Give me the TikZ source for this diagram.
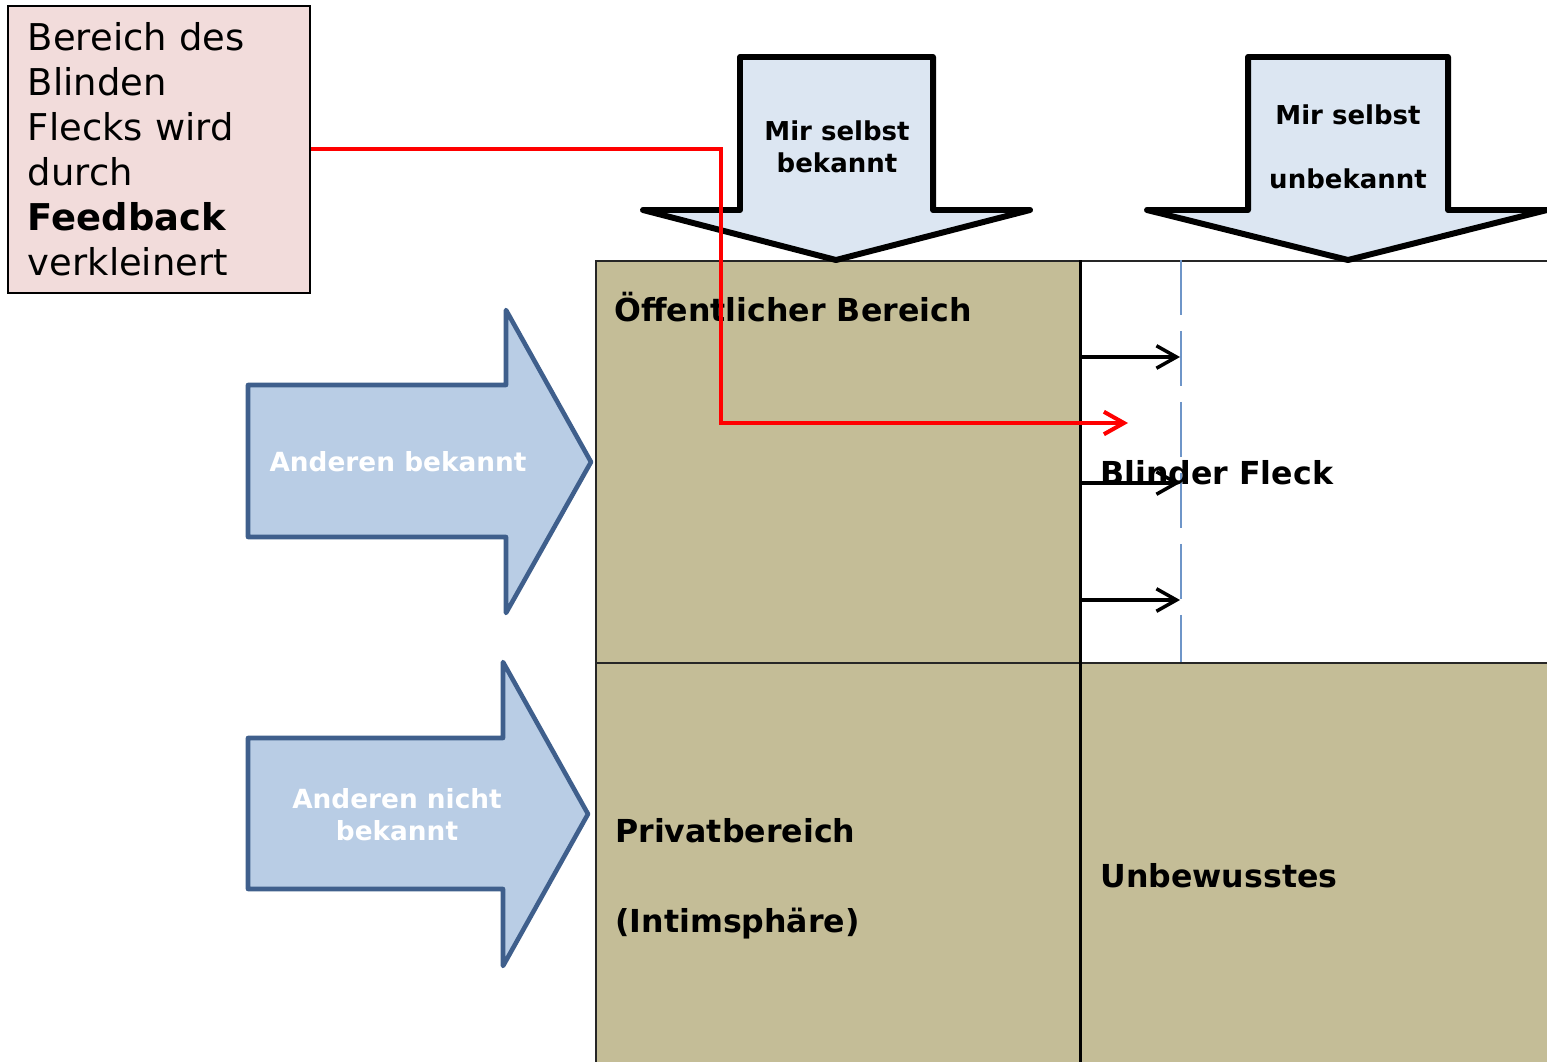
\documentclass[tikz,border=0pt]{standalone}
\usepackage{fontspec}
\setmainfont{DejaVu Sans}
\usepackage{xcolor}
\usetikzlibrary{arrows.meta, positioning}
\definecolor{quadtan}{HTML}{C4BD97}
\definecolor{notepink}{HTML}{F2DCDB}
\definecolor{headfill}{HTML}{DCE6F2}
\definecolor{sidefill}{HTML}{B9CDE5}
\definecolor{sidedraw}{HTML}{3F5F8C}
\definecolor{dashblue}{HTML}{6E95C8}
\tikzset{
  cell/.style={rectangle, draw=black!85, line width=1pt, fill=quadtan,
               anchor=north west, inner sep=0pt},
  celltext/.style={font=\bfseries\fontsize{18}{22}\selectfont, anchor=base west, inner sep=0pt},
  headarrow/.style={draw=black, line width=3.4pt, fill=headfill, line join=round},
  headtext/.style={font=\bfseries\fontsize{14.8}{18.2}\selectfont, align=center},
  sidearrow/.style={draw=sidedraw, line width=2.6pt, fill=sidefill, line join=round},
  sidetext/.style={font=\bfseries\fontsize{15}{18.2}\selectfont, text=white, align=center},
  note/.style={rectangle, draw=black, line width=1.1pt, fill=notepink, anchor=north west,
               minimum width=6.04cm, minimum height=5.74cm, text width=5.24cm,
               inner xsep=0.4cm, align=left, font=\fontsize{21}{25.6}\selectfont},
  fbline/.style={draw=red, line width=2.3pt, -{Straight Barb[length=0.4cm, width=0.45cm]}},
  flow/.style={line width=2pt, -{Straight Barb[length=0.4cm, width=0.45cm]}},
  sightline/.style={draw=dashblue, line width=1pt, dash pattern=on 1.1cm off 0.32cm},
}
\begin{document}
\begin{tikzpicture}[x=0.02cm, y=-0.02cm]
  \useasboundingbox (0,0) rectangle (1547,1061);

  % Johari quadrants
  \node[cell, minimum width=9.68cm, minimum height=8.04cm] (public) at (595,260) {};
  \node[cell, fill=white, minimum width=9.7cm, minimum height=8.04cm] (blind) at (1079,260) {};
  \node[cell, minimum width=9.68cm, minimum height=8.4cm] (private) at (595,662) {};
  \node[cell, minimum width=9.7cm, minimum height=8.4cm] (unknown) at (1079,662) {};
  \draw[line width=2pt] (public.north east) -- (private.south east);
  \draw[sightline] (1181,260) -- (1181,662);

  \node[celltext] (public-lbl) at (614,321) {Öffentlicher Bereich};
  \node[celltext] (blind-lbl) at (1100,484) {Blinder Fleck};
  \node[celltext] (private-lbl) at (615,842) {Privatbereich};
  \node[celltext] (intim-lbl) at (615,932) {(Intimsphäre)};
  \node[celltext] (unknown-lbl) at (1100,887) {Unbewusstes};

  % arrows on top
  \draw[headarrow] (740,57) -- (933,57) -- (933,210) -- (1030,210) -- (836,260)
    -- (643,210) -- (740,210) -- cycle;
  \node[headtext] (self-known) at (837,147) {Mir selbst\\bekannt};
  \draw[headarrow] (1248,57) -- (1448,57) -- (1448,210) -- (1547,210) -- (1348,260)
    -- (1147,210) -- (1248,210) -- cycle;
  \node[headtext] (self-unknown) at (1348,147) {Mir selbst\\[18pt]unbekannt};

  % arrows on the left
  \draw[sidearrow] (248,385) -- (506,385) -- (506,310) -- (591,462) -- (506,613)
    -- (506,537) -- (248,537) -- cycle;
  \node[sidetext] (others-known) at (398,462) {Anderen bekannt};
  \draw[sidearrow] (248,738) -- (503,738) -- (503,662) -- (588,814) -- (503,966)
    -- (503,889) -- (248,889) -- cycle;
  \node[sidetext] (others-unknown) at (397,815) {Anderen nicht\\bekannt};

  % feedback note
  \node[note] (note) at (7,5) {Bereich des\\Blinden\\Flecks wird\\durch\\\textbf{Feedback}\\verkleinert};
  \coordinate (fb-tip) at (1128,423);
  \draw[fbline] (note.east) -- ++(410,0) |- (fb-tip);

  \foreach \yy in {357,483,600}
    \draw[flow] (blind.west |- 0,\yy) -- (1180,\yy);
\end{tikzpicture}
\end{document}
